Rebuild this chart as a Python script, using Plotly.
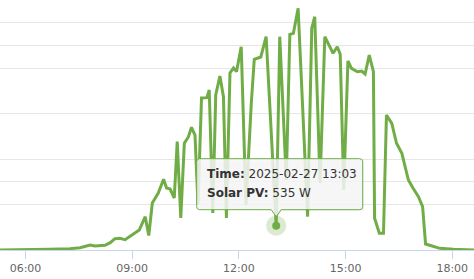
import plotly.graph_objects as go

DAY = "2025-02-27"

# Solar PV output (W) over the day
times = [
    "05:00", "06:24", "06:41", "07:15", "07:32", "07:49", "07:57", "08:14", "08:23", "08:31",
    "08:39", "08:48", "08:56", "09:05", "09:12", "09:22", "09:28", "09:34", "09:44", "09:53",
    "09:58", "10:04", "10:11", "10:16", "10:22", "10:28", "10:35", "10:40", "10:46", "10:51",
    "10:57", "11:06", "11:10", "11:16", "11:21", "11:28", "11:34", "11:39", "11:45", "11:51",
    "11:56", "12:04", "12:12", "12:21", "12:26", "12:37", "12:46", "13:03", "13:09", "13:20",
    "13:26", "13:32", "13:40", "13:56", "14:03", "14:08", "14:17", "14:25", "14:34", "14:39",
    "14:46", "14:51", "14:57", "15:04", "15:10", "15:20", "15:27", "15:33", "15:40", "15:47",
    "15:49", "15:57", "16:04", "16:09", "16:18", "16:26", "16:35", "16:46", "16:54", "17:03",
    "17:10", "17:15", "17:39", "18:02", "18:40",
]
solar_pv = [
    0, 0, 15, 29, 51, 110, 88, 103, 161, 249,
    257, 227, 293, 367, 440, 733, 319, 1034, 1254, 1555,
    1364, 1342, 1144, 2383, 704, 2347, 2493, 2699, 2530, 990,
    3344, 3351, 3520, 814, 3410, 3828, 3373, 704, 3894, 4004,
    3923, 4473, 990, 3234, 4195, 4246, 4693, 535, 4693, 1540,
    4745, 4767, 5317, 733, 4877, 5133, 1474, 4693, 4437, 4327,
    4473, 4305, 1320, 4158, 3997, 3923, 3938, 3872, 4290, 3923,
    697, 367, 367, 2970, 2787, 2347, 2127, 1540, 1357, 1173,
    953, 132, 37, 15, 0,
]

hover_time = "13:03"
hover_value = 535
tick_labels = ["06:00", "09:00", "12:00", "15:00", "18:00"]

GREEN = "#70ad47"
FONT = "DejaVu Sans"

x = [f"{DAY} {t}" for t in times]
hx = f"{DAY} {hover_time}"

fig = go.Figure()
fig.add_trace(go.Scatter(
    x=x, y=solar_pv, mode="lines",
    line=dict(color=GREEN, width=3),
    showlegend=False, hoverinfo="skip",
))
# secondary axis (only its grid is visible)
fig.add_trace(go.Scatter(x=[], y=[], yaxis="y2", showlegend=False, hoverinfo="skip"))
# hover halo + marker
fig.add_trace(go.Scatter(
    x=[hx], y=[hover_value], mode="markers",
    marker=dict(size=20, color="rgba(112,173,71,0.25)", line=dict(width=0)),
    showlegend=False, hoverinfo="skip",
))
fig.add_trace(go.Scatter(
    x=[hx], y=[hover_value], mode="markers",
    marker=dict(size=8, color=GREEN, line=dict(width=0)),
    showlegend=False, hoverinfo="skip",
))

# tooltip callout (pixel offsets relative to the hovered point, y up)
L, R, T, B, r = -79.5, 86.5, 67, 16, 3
path = (f"M {L},{B + r} L {L},{T - r} Q {L},{T} {L + r},{T} "
        f"L {R - r},{T} Q {R},{T} {R},{T - r} L {R},{B + r} Q {R},{B} {R - r},{B} "
        f"L 5,{B} L 0,9 L -5,{B} L {L + r},{B} Q {L},{B} {L},{B + r} Z")
shadow = (f"M {L + 1},{B + r - 1} L {L + 1},{T - r - 1} L {R + 1},{T - 1} "
          f"L {R + 1},{B - 1} L 6,{B - 1} L 1,8 L -4,{B - 1} Z")
fig.add_shape(type="path", path=shadow, xref="x", yref="y",
              xsizemode="pixel", ysizemode="pixel", xanchor=hx, yanchor=hover_value,
              fillcolor="rgba(0,0,0,0.06)", line=dict(width=0), layer="above")
fig.add_shape(type="path", path=path, xref="x", yref="y",
              xsizemode="pixel", ysizemode="pixel", xanchor=hx, yanchor=hover_value,
              fillcolor="rgba(247,247,247,0.85)", line=dict(color=GREEN, width=1),
              layer="above")

fig.add_annotation(x=hx, y=hover_value, xref="x", yref="y",
                   text=f"<b>Time:</b> {DAY} {hover_time}",
                   showarrow=False, xanchor="left", yanchor="middle",
                   xshift=-71.5, yshift=51.5,
                   font=dict(family=FONT, size=12, color="#333333"))
fig.add_annotation(x=hx, y=hover_value, xref="x", yref="y",
                   text=f"<b>Solar PV:</b> {hover_value} W",
                   showarrow=False, xanchor="left", yanchor="middle",
                   xshift=-71.5, yshift=33,
                   font=dict(family=FONT, size=12, color="#333333"))

fig.update_layout(
    width=474, height=279,
    margin=dict(l=0, r=0, t=0, b=29),
    paper_bgcolor="white", plot_bgcolor="white",
    font=dict(family=FONT, size=11, color="#666666"),
    hovermode=False,
    xaxis=dict(
        type="date",
        range=[f"{DAY} 05:17:00", f"{DAY} 18:36:43"],
        tickvals=[f"{DAY} {t}" for t in tick_labels],
        ticktext=tick_labels,
        showgrid=False, zeroline=False,
        showline=True, linecolor="#ccd6eb", linewidth=1,
        ticks="outside", ticklen=8, tickcolor="#ccd6eb", tickwidth=1,
        tickfont=dict(family=FONT, size=11, color="#666666"),
    ),
    yaxis=dict(
        range=[0, 5500], dtick=1000,
        showticklabels=False, showgrid=True, gridcolor="#e6e6e6", gridwidth=1,
        zeroline=False, showline=False, ticks="",
    ),
    yaxis2=dict(
        overlaying="y", side="right",
        range=[0, 11], dtick=3,
        showticklabels=False, showgrid=True, gridcolor="#e6e6e6", gridwidth=1,
        zeroline=False, showline=False, ticks="",
    ),
)

fig.write_html("out.html", config={"displayModeBar": False})
